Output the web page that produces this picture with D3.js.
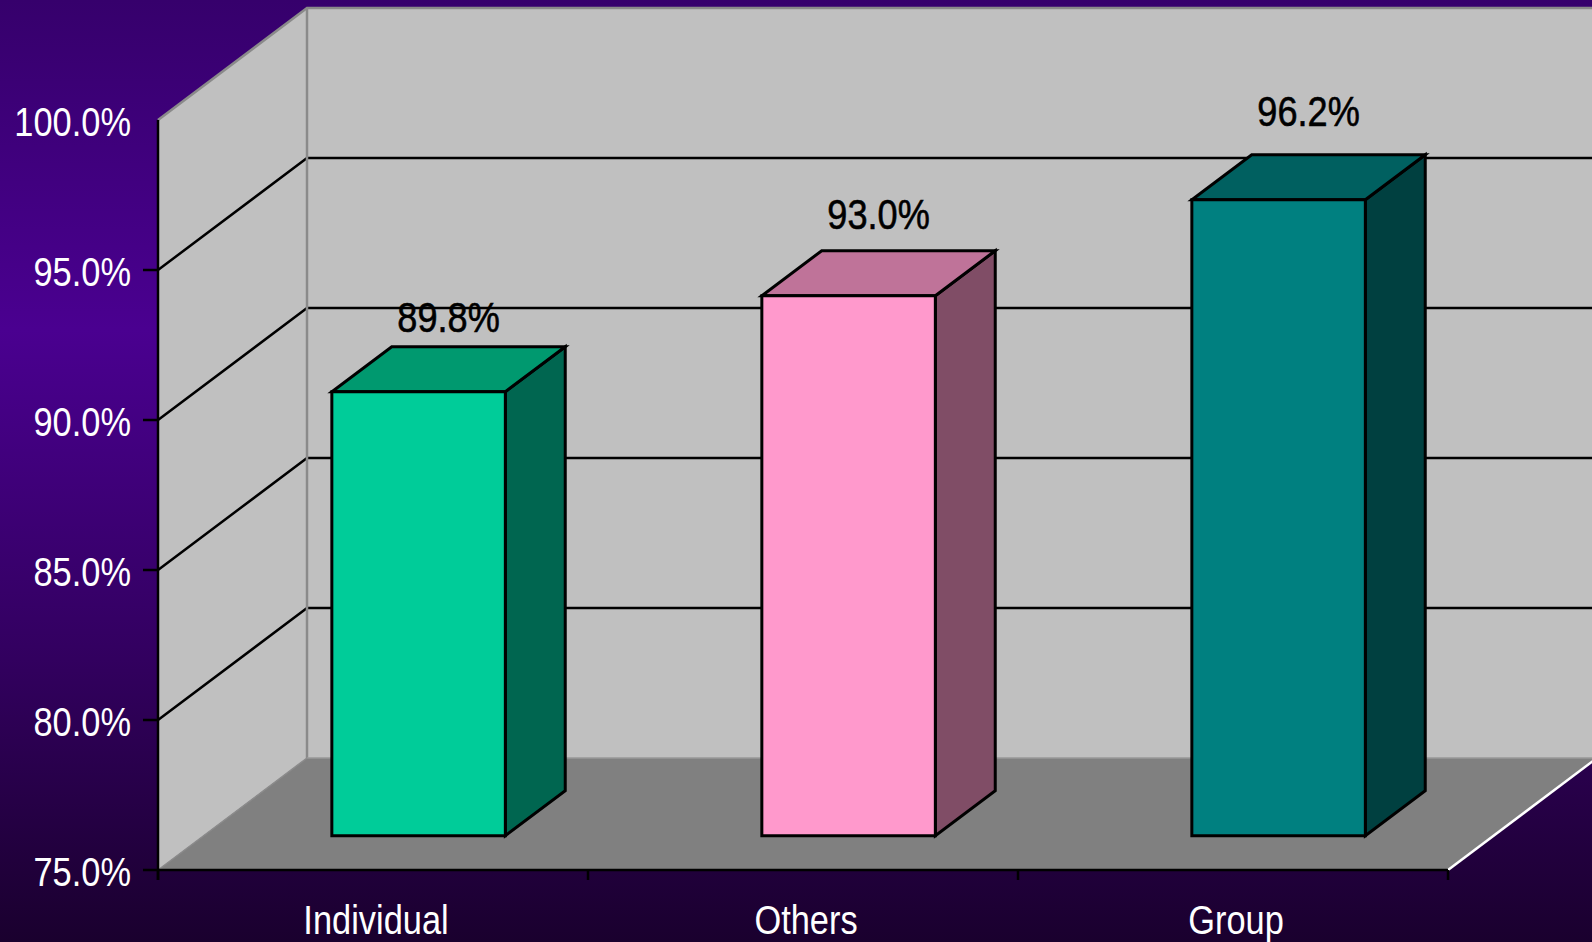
<!DOCTYPE html>
<html><head><meta charset="utf-8">
<script src="https://cdn.jsdelivr.net/npm/d3@7"></script>
<style>body{margin:0;overflow:hidden;background:#2a0050}svg{display:block}</style>
</head><body><svg id="c" width="1592" height="942"></svg>
<script>
const categories = ["Individual", "Others", "Group"];
const values = [0.898, 0.930, 0.962];
const yTicks = [0.75, 0.80, 0.85, 0.90, 0.95, 1.00];
const frontColors = ["#00cc99", "#ff99cc", "#008080"];
const topColors = ["#00996f", "#bf7399", "#006060"];
const sideColors = ["#006650", "#804d66", "#004040"];

const W = 1592, H = 942;
const DX = 149, DY = -112;        // full depth offset
const Z1 = 0.306, Z2 = 0.708;     // bar front/back depth
const FONT = "'Liberation Sans','Arial',sans-serif";
const SX = 0.86;                  // horizontal condensing of text

const svg = d3.select("#c");
const defs = svg.append("defs");
const grad = defs.append("linearGradient").attr("id", "bg").attr("x1", 0).attr("y1", 0).attr("x2", 0).attr("y2", 1);
[[0, "#36006c"], [0.35, "#4a0090"], [0.7, "#32005f"], [1, "#1a002e"]].forEach(([o, c]) =>
  grad.append("stop").attr("offset", o).attr("stop-color", c));
svg.append("rect").attr("width", W).attr("height", H).attr("fill", "url(#bg)");

const x = d3.scaleBand().domain(categories).range([158, 1448]);
const y = d3.scaleLinear().domain([0.75, 1.0]).range([870, 120]);
const proj = (px, v, z) => [px + z * DX, y(v) + z * DY];
const y0 = 0.75, y1 = 1.0;
const xL = x.range()[0], xR = x.range()[1];

const poly = pts => "M" + pts.map(p => p.join(",")).join("L") + "Z";
const tr = (px, py) => `translate(${px},${py}) scale(${SX},1)`;

// back wall
svg.append("path").attr("d", poly([proj(xL, y1, 1), proj(xR + 400, y1, 1), proj(xR + 400, y0, 1), proj(xL, y0, 1)]))
  .attr("fill", "#c0c0c0");
// left wall
svg.append("path").attr("d", poly([proj(xL, y1, 0), proj(xL, y1, 1), proj(xL, y0, 1), proj(xL, y0, 0)]))
  .attr("fill", "#c0c0c0");
// floor
svg.append("path").attr("d", poly([proj(xL, y0, 0), proj(xR, y0, 0), proj(xR, y0, 1), proj(xL, y0, 1)]))
  .attr("fill", "#808080");

// gridlines
const inner = yTicks.filter(t => t > y0 + 1e-9 && t < y1 - 1e-9);
svg.append("g").selectAll("path").data(inner).join("path")
  .attr("d", t => "M" + proj(xL, t, 0) + "L" + proj(xL, t, 1) + "L" + proj(xR + 400, t, 1))
  .attr("fill", "none").attr("stroke", "#000").attr("stroke-width", 2.5);

// wall edges
const edge = svg.append("g").attr("fill", "none");
edge.append("path").attr("d", "M" + proj(xL, y1, 0) + "L" + proj(xL, y1, 1) + "L" + proj(xR + 400, y1, 1))
  .attr("stroke", "#8a8a8a").attr("stroke-width", 2.5);
edge.append("path").attr("d", "M" + proj(xL, y1, 1) + "L" + proj(xL, y0, 1))
  .attr("stroke", "#8a8a8a").attr("stroke-width", 2.5);
edge.append("path").attr("d", "M" + proj(xL, y0, 1) + "L" + proj(xR + 400, y0, 1))
  .attr("stroke", "#999").attr("stroke-width", 1.5);
edge.append("path").attr("d", "M" + proj(xL, y0, 0) + "L" + proj(xL, y0, 1))
  .attr("stroke", "#8c8c8c").attr("stroke-width", 1.5);
edge.append("path").attr("d", "M" + proj(xR, y0, 0) + "L" + proj(xR, y0, 1))
  .attr("stroke", "#fff").attr("stroke-width", 2.5);

// bars
const bw = x.bandwidth() * 0.4035;
const bars = svg.append("g").selectAll("g").data(categories).join("g");
bars.each(function (c, i) {
  const g = d3.select(this);
  const v = values[i];
  const cx = x(c) + x.bandwidth() / 2;
  const a = cx - bw / 2, b = cx + bw / 2;
  g.append("path").attr("d", poly([proj(b, y0, Z1), proj(b, v, Z1), proj(b, v, Z2), proj(b, y0, Z2)]))
    .attr("fill", sideColors[i]);
  g.append("path").attr("d", poly([proj(a, v, Z1), proj(b, v, Z1), proj(b, v, Z2), proj(a, v, Z2)]))
    .attr("fill", topColors[i]);
  g.append("path").attr("d", poly([proj(a, y0, Z1), proj(b, y0, Z1), proj(b, v, Z1), proj(a, v, Z1)]))
    .attr("fill", frontColors[i]);
  g.selectAll("path").attr("stroke", "#000").attr("stroke-width", 3).attr("stroke-linejoin", "miter");
});

// value labels
svg.append("g").selectAll("text").data(categories).join("text")
  .attr("transform", (c, i) => tr(x(c) + x.bandwidth() / 2 + (Z1 + Z2) / 2 * DX, 1.073 * proj(0, values[i], Z1)[1] - 88))
  .attr("text-anchor", "middle").attr("font-family", FONT).attr("font-size", 42)
  .attr("stroke", "#000").attr("stroke-width", 0.6)
  .attr("fill", "#000").text((c, i) => d3.format(".1%")(values[i]));

// front axes lines
svg.append("path").attr("d", "M" + proj(xL, y1, 0) + "L" + [xL, y(y0) + 10])
  .attr("stroke", "#000").attr("stroke-width", 2.5).attr("fill", "none");
svg.append("path").attr("d", "M" + proj(xL, y0, 0) + "L" + proj(xR, y0, 0))
  .attr("stroke", "#000").attr("stroke-width", 2.5).attr("fill", "none");

// y ticks and labels
const ya = svg.append("g");
ya.selectAll("line").data(yTicks.filter(t => t < y1 - 1e-9)).join("line")
  .attr("x1", xL - 15).attr("x2", xL).attr("y1", d => y(d)).attr("y2", d => y(d))
  .attr("stroke", "#000").attr("stroke-width", 2.5);
ya.selectAll("text").data(yTicks).join("text")
  .attr("transform", d => tr(xL - 27, y(d) + 2))
  .attr("dy", "0.35em")
  .attr("text-anchor", "end").attr("font-family", FONT).attr("font-size", 40)
  .attr("fill", "#fff").text(d => d3.format(".1%")(d));

// x ticks and labels
const edges = categories.map(c => x(c)).concat([xR]);
svg.append("g").selectAll("line").data(edges).join("line")
  .attr("x1", d => d).attr("x2", d => d).attr("y1", y(y0)).attr("y2", y(y0) + 10)
  .attr("stroke", "#000").attr("stroke-width", 2.5);
svg.append("g").selectAll("text").data(categories).join("text")
  .attr("transform", c => tr(x(c) + x.bandwidth() / 2 + 3, 934))
  .attr("text-anchor", "middle").attr("font-family", FONT).attr("font-size", 40)
  .attr("fill", "#fff").text(c => c);
</script></body></html>
